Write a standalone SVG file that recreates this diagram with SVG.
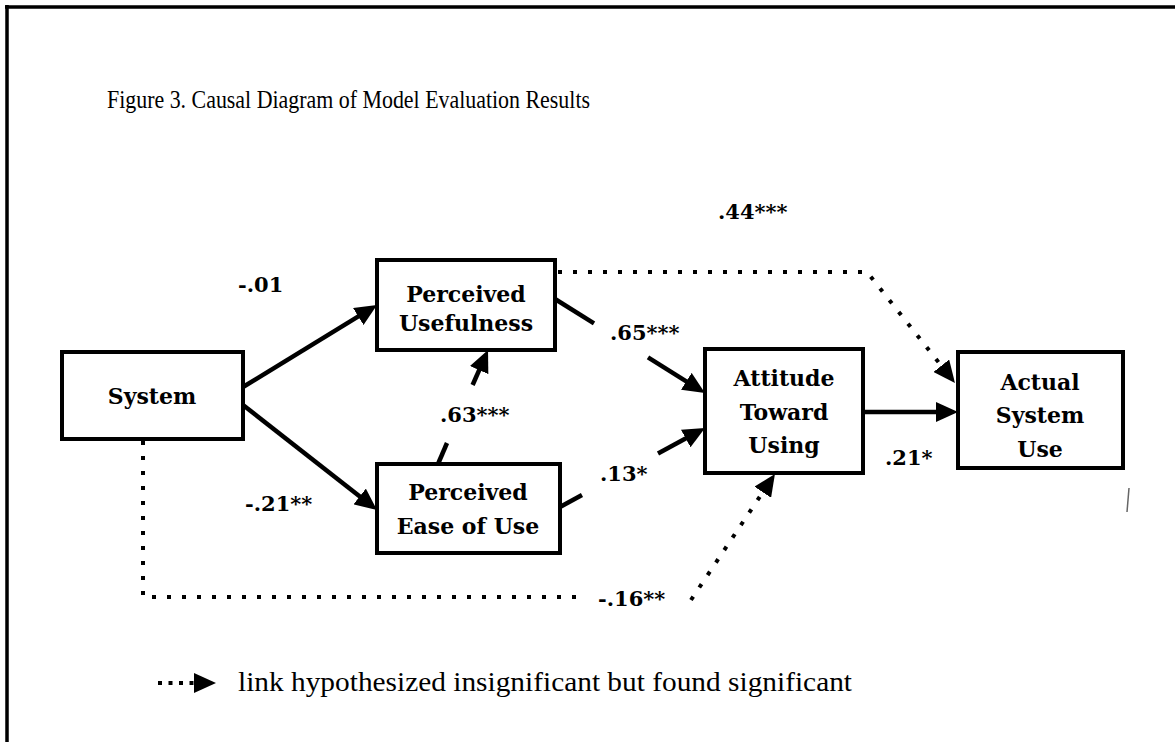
<svg xmlns="http://www.w3.org/2000/svg" width="1175" height="742" viewBox="0 0 1175 742">
<style>
.box{fill:#fff;stroke:#000;stroke-width:4}
.n{font-family:"DejaVu Serif","Liberation Serif",serif;font-weight:bold;font-size:22px;text-anchor:middle;fill:#000}
.lb{font-family:"DejaVu Serif","Liberation Serif",serif;font-weight:bold;font-size:21px;fill:#000}
.t{font-family:"Liberation Serif","DejaVu Serif",serif;fill:#000}
.solid{fill:none;stroke:#000;stroke-width:4.5}
.dot{fill:none;stroke:#000;stroke-width:4;stroke-dasharray:4 11}
</style>
<defs>
<marker id="ah" viewBox="0 0 22 20" refX="14" refY="10" markerWidth="22" markerHeight="20" markerUnits="userSpaceOnUse" orient="auto">
<path d="M0,0 L22,10 L0,20 z" fill="#000"/>
</marker>
</defs>
<rect width="1175" height="742" fill="#fff"/>
<g id="frame">
<path d="M5,7 H1175 M7,5 V742" fill="none" stroke="#000" stroke-width="3.5"/>
<path d="M1129,488 L1127,512" stroke="#666" stroke-width="1.5"/>
</g>
<text id="title" class="t" x="107" y="108" font-size="26" textLength="483" lengthAdjust="spacingAndGlyphs">Figure 3. Causal Diagram of Model Evaluation Results</text>
<g id="connectors">
<path class="solid" d="M243,387 L370.2,309.2" marker-end="url(#ah)"/>
<path class="solid" d="M243,405 L370.7,505.1" marker-end="url(#ah)"/>
<path class="solid" d="M555,299 L594,323.4"/>
<path class="solid" d="M648,357.3 L698.2,388.8" marker-end="url(#ah)"/>
<path class="solid" d="M560,507 L582,495"/>
<path class="solid" d="M658,453.6 L698,431.8" marker-end="url(#ah)"/>
<path class="solid" d="M438,464 L447,443"/>
<path class="solid" d="M472.6,385 L484.8,357.3" marker-end="url(#ah)"/>
<path class="solid" d="M863,412 H950" marker-end="url(#ah)"/>
<path class="dot" d="M558,272 H867 L950,376.7" marker-end="url(#ah)"/>
<path class="dot" d="M143,441 V597 H586"/>
<path class="dot" d="M691,600 L770.5,480.6" marker-end="url(#ah)"/>
</g>
<g id="edge-labels">
<text class="lb" x="238" y="292">-.01</text>
<text class="lb" x="718" y="219">.44***</text>
<text class="lb" x="610" y="340">.65***</text>
<text class="lb" x="440" y="422">.63***</text>
<text class="lb" x="600" y="481">.13*</text>
<text class="lb" x="245" y="511">-.21**</text>
<text class="lb" x="885" y="465">.21*</text>
<text class="lb" x="598" y="606">-.16**</text>
</g>
<g id="system">
<rect class="box" x="62" y="352" width="181" height="87"/>
<text class="n" x="152" y="404">System</text>
</g>
<g id="perceived-usefulness">
<rect class="box" x="377" y="260" width="178" height="90"/>
<text class="n" x="466" y="302">Perceived</text>
<text class="n" x="466" y="331">Usefulness</text>
</g>
<g id="perceived-ease-of-use">
<rect class="box" x="377" y="464" width="183" height="89"/>
<text class="n" x="468" y="500">Perceived</text>
<text class="n" x="468" y="534">Ease of Use</text>
</g>
<g id="attitude">
<rect class="box" x="705" y="349" width="158" height="124"/>
<text class="n" x="784" y="386">Attitude</text>
<text class="n" x="784" y="420">Toward</text>
<text class="n" x="784" y="453">Using</text>
</g>
<g id="actual-use">
<rect class="box" x="958" y="352" width="165" height="116"/>
<text class="n" x="1040" y="390">Actual</text>
<text class="n" x="1040" y="423">System</text>
<text class="n" x="1040" y="457">Use</text>
</g>
<g id="legend">
<path class="dot" d="M158,683 H204" style="stroke-dasharray:4 6.5"/>
<path class="solid" d="M203,683 H208" marker-end="url(#ah)"/>
<text class="t" x="238" y="691" font-size="27" textLength="614" lengthAdjust="spacingAndGlyphs">link hypothesized insignificant but found significant</text>
</g>
</svg>
